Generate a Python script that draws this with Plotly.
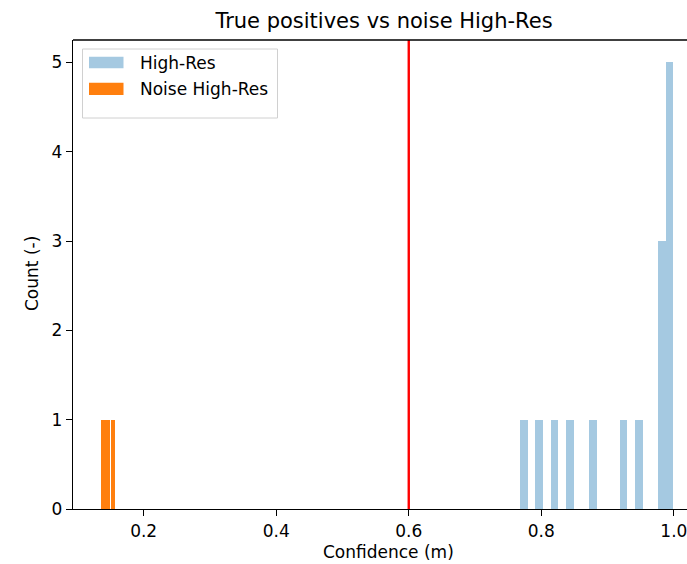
import plotly.graph_objects as go

# ---- data ----
hr_bin_start = 0.768
hr_bin_width = 0.01156
hr_counts = [1, 0, 1, 0, 1, 0, 1, 0, 0, 1, 0, 0, 0, 1, 0, 1, 0, 0, 3, 5]

noise_bin_start = 0.137
noise_bin_width = 0.002
noise_counts = [1, 1, 1, 1, 1, 1, 0, 1, 0, 1]

threshold = 0.6
x_range = [0.0934, 1.0198]
y_range = [0, 5.25]
x_ticks = [0.2, 0.4, 0.6, 0.8, 1.0]
x_tick_labels = ["0.2", "0.4", "0.6", "0.8", "1.0"]
y_ticks = [0, 1, 2, 3, 4, 5]
series_names = ["High-Res", "Noise High-Res"]
series_colors = ["#a5c9e1", "#ff7f0e"]

hr_x = [hr_bin_start + (i + 0.5) * hr_bin_width for i in range(len(hr_counts))]
noise_x = [noise_bin_start + (i + 0.5) * noise_bin_width for i in range(len(noise_counts))]

FONT = "DejaVu Sans"
FS = 17
W, H = 687, 564
L, T, B = 73, 40, 55
PW, PH = W - L, H - T - B


def px(x):
    return (x - L) / PW


def py(y):
    return (H - B - y) / PH


fig = go.Figure()
fig.add_trace(go.Bar(
    x=hr_x, y=hr_counts, width=[hr_bin_width] * len(hr_counts),
    name=series_names[0], marker=dict(color=series_colors[0], line=dict(width=0)),
))
fig.add_trace(go.Bar(
    x=noise_x, y=noise_counts, width=[noise_bin_width] * len(noise_counts),
    name=series_names[1], marker=dict(color=series_colors[1], line=dict(width=0)),
))

fig.add_shape(type="line", xref="x", yref="paper", x0=threshold, x1=threshold,
              y0=0, y1=1, line=dict(color="red", width=2.4))
fig.add_shape(type="line", xref="paper", yref="paper", x0=0, x1=1, y0=1, y1=1,
              line=dict(color="black", width=1.3))

# legend (matplotlib style: wide patches, light frame)
fig.add_shape(type="rect", xref="paper", yref="paper", x0=px(82.5), x1=px(277.5), y0=py(118), y1=py(49),
              line=dict(color="#d0d0d0", width=1), fillcolor="rgba(255,255,255,0.8)", layer="above")
annotations = []
rows = [(62.5, 56.7, 68.3), (89.0, 82.7, 95.0)]
for name, color, (cy, y0, y1) in zip(series_names, series_colors, rows):
    fig.add_shape(type="rect", xref="paper", yref="paper", x0=px(89), x1=px(123.5),
                  y0=py(y1), y1=py(y0), line=dict(width=0), fillcolor=color, layer="above")
    annotations.append(dict(text=name, xref="paper", yref="paper", x=px(138), y=py(cy),
                            xanchor="left", yanchor="middle", showarrow=False,
                            font=dict(family=FONT, size=FS)))

annotations += [
    dict(text="Confidence (m)", xref="paper", yref="paper", x=px(388), y=py(552),
         xanchor="center", yanchor="middle", showarrow=False, font=dict(family=FONT, size=FS)),
    dict(text="Count (-)", xref="paper", yref="paper", x=px(32), y=py(274),
         xanchor="center", yanchor="middle", textangle=-90, showarrow=False,
         font=dict(family=FONT, size=FS)),
]

fig.update_layout(
    width=W, height=H,
    margin=dict(l=L, r=0, t=T, b=B),
    paper_bgcolor="white", plot_bgcolor="white",
    font=dict(family=FONT, size=FS, color="black"),
    bargap=0, barmode="overlay",
    showlegend=False,
    title=dict(text="True positives vs noise High-Res", x=384 / W, xanchor="center",
               y=1 - 20.5 / H, yanchor="middle", yref="container", xref="container",
               font=dict(family=FONT, size=21, color="black")),
    xaxis=dict(range=x_range, tickvals=x_ticks, ticktext=x_tick_labels,
               showgrid=False, zeroline=False, showline=True, linecolor="black", linewidth=1.3,
               ticks="outside", ticklen=6, tickcolor="black", tickwidth=1.3,
               ticklabeloverflow="allow",
               tickfont=dict(family=FONT, size=FS)),
    yaxis=dict(range=y_range, tickvals=y_ticks,
               showgrid=False, zeroline=False, showline=True, linecolor="black", linewidth=1.3,
               ticks="outside", ticklen=6, tickcolor="black", tickwidth=1.3,
               tickfont=dict(family=FONT, size=FS)),
    annotations=annotations,
)

fig.write_html("out.html", config={"displayModeBar": False},
               post_script="document.body.style.margin='0';document.body.style.overflow='hidden';")
